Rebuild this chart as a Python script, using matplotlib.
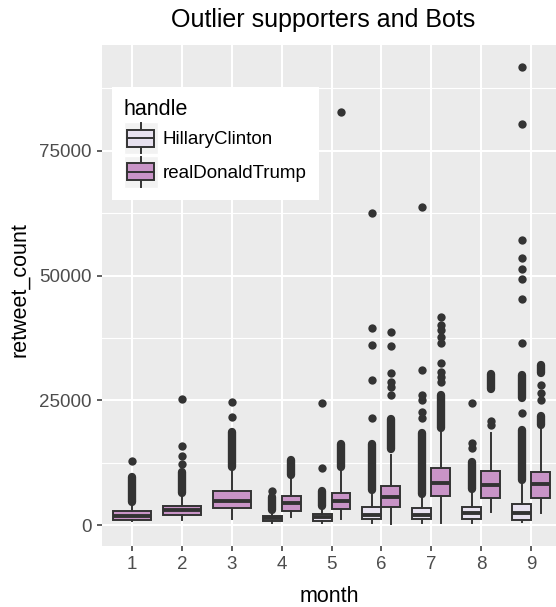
import matplotlib
matplotlib.use('Agg')
import matplotlib.pyplot as plt
from matplotlib.legend_handler import HandlerBase
from matplotlib.patches import Rectangle, Patch
from matplotlib.lines import Line2D

plt.rcParams['font.family'] = ['Liberation Sans', 'DejaVu Sans']

handle_names = ['HillaryClinton', 'realDonaldTrump']
fill_colors = ['#E7E1EF', '#C994C7']
month_ticks = [1, 2, 3, 4, 5, 6, 7, 8, 9]
y_ticks = [0, 25000, 50000, 75000]

# HillaryClinton (months 4-9)
hc_months = [4, 5, 6, 7, 8, 9]
hc_whislo = [460, 460, 460, 460, 460, 540]
hc_q1 = [870, 870, 1140, 1140, 1140, 1000]
hc_med = [1340, 1540, 2000, 2000, 2340, 2470]
hc_q3 = [1870, 2140, 3670, 3340, 3540, 4210]
hc_whishi = [2500, 3000, 6010, 5350, 6350, 8000]
hc_dots = [
    [6870],
    [11360, 24390],
    [21380, 29060, 36070, 39420, 62460],
    [21380, 22700, 25050, 26050, 31060, 63790],
    [15370, 16370, 24390],
    [22380, 36400, 45230, 49240, 51240, 53440, 57110, 80360, 91850],
]
# dense stacks of outliers, (low, high)
hc_runs = [
    [(3000, 5700)],
    [(3900, 6850)],
    [(7000, 16300)],
    [(6300, 18400)],
    [(7300, 12700)],
    [(9000, 19000), (25400, 30000)],
]

# realDonaldTrump (months 1-9)
dt_months = [1, 2, 3, 4, 5, 6, 7, 8, 9]
dt_whislo = [800, 1060, 1260, 1660, 1140, 200, 330, 2540, 2340]
dt_q1 = [1000, 1940, 3470, 2870, 3140, 3540, 5810, 5470, 5350]
dt_med = [1800, 2940, 4800, 4350, 4870, 5550, 8350, 8020, 8150]
dt_q3 = [2740, 3800, 6800, 5870, 6480, 7880, 11490, 10880, 10560]
dt_whishi = [3950, 6000, 11000, 9360, 11160, 14030, 18700, 18500, 19380]
dt_dots = [
    [12900],
    [12290, 13760, 15900, 25300],
    [21700, 24650],
    [],
    [82760],
    [26050, 27720, 28720, 30400, 35870, 38740],
    [28720, 29720, 30720, 32400, 36410, 37740, 39080, 40080, 41740],
    [20100, 20900],
    [25050, 26390, 28060],
]
dt_runs = [
    [(4670, 9700)],
    [(6470, 10560)],
    [(11620, 18700)],
    [(9940, 13100)],
    [(11620, 16230)],
    [(15170, 21240)],
    [(19500, 26050)],
    [(27170, 30260)],
    [(20000, 21900), (30500, 32000)],
]

dark = '#333333'

fig = plt.figure(figsize=(5.56, 6.07), dpi=100)
ax = fig.add_axes([102 / 556, 61 / 607, 459 / 556, 501 / 607])
ax.set_facecolor('#EBEBEB')
ax.set_axisbelow(True)


def draw_group(months, whislo, q1, med, q3, whishi, dots, runs, color, offset, width):
    stats = []
    for i in range(len(months)):
        stats.append(dict(whislo=whislo[i], q1=q1[i], med=med[i], q3=q3[i],
                          whishi=whishi[i], fliers=[]))
    pos = [m + offset for m in months]
    ax.bxp(stats, positions=pos, widths=width, patch_artist=True,
           showfliers=False, showcaps=False, manage_ticks=False,
           boxprops=dict(facecolor=color, edgecolor=dark, linewidth=1.4),
           medianprops=dict(color=dark, linewidth=2.8),
           whiskerprops=dict(color=dark, linewidth=1.4))
    for i, x in enumerate(pos):
        if dots[i]:
            ax.plot([x] * len(dots[i]), dots[i], 'o', ms=6, color=dark, mec='none', zorder=3)
        for lo, hi in runs[i]:
            ax.plot([x, x], [lo, hi], color=dark, lw=6, solid_capstyle='round', zorder=3)


# months 1-3 only have Trump tweets, so that box takes the full slot
single = [m for m in dt_months if m not in hc_months]
draw_group(hc_months, hc_whislo, hc_q1, hc_med, hc_q3, hc_whishi, hc_dots, hc_runs,
           fill_colors[0], -0.19, 0.38)
idx = [dt_months.index(m) for m in single]
draw_group(single, [dt_whislo[i] for i in idx], [dt_q1[i] for i in idx],
           [dt_med[i] for i in idx], [dt_q3[i] for i in idx], [dt_whishi[i] for i in idx],
           [dt_dots[i] for i in idx], [dt_runs[i] for i in idx], fill_colors[1], 0, 0.76)
idx = [dt_months.index(m) for m in hc_months]
draw_group(hc_months, [dt_whislo[i] for i in idx], [dt_q1[i] for i in idx],
           [dt_med[i] for i in idx], [dt_q3[i] for i in idx], [dt_whishi[i] for i in idx],
           [dt_dots[i] for i in idx], [dt_runs[i] for i in idx], fill_colors[1], 0.19, 0.38)

ax.set_xlim(0.4, 9.6)
ax.set_ylim(-4200, 96200)
ax.set_xticks(month_ticks)
ax.set_xticklabels([str(m) for m in month_ticks])
ax.set_yticks(y_ticks)
ax.set_yticklabels([str(v) for v in y_ticks])
ax.set_yticks([12500, 37500, 62500, 87500], minor=True)
ax.grid(True, which='major', color='white', linewidth=1.5)
ax.grid(True, which='minor', axis='y', color='white', linewidth=0.8)
ax.tick_params(axis='both', which='major', color=dark, length=3.5, width=1.1,
               labelsize=13.5, labelcolor='#4D4D4D', pad=4)
ax.tick_params(axis='y', which='minor', length=0)
for s in ax.spines.values():
    s.set_visible(False)

fig.text(323 / 556, 1 - 26.7 / 607, 'Outlier supporters and Bots', ha='center',
         va='baseline', fontsize=18, color='black')
fig.text(329.3 / 556, 1 - 601.5 / 607, 'month', ha='center', va='baseline', fontsize=15.5)
fig.text(25 / 556, 1 - 290 / 607, 'retweet_count', ha='center', va='baseline',
         rotation=90, rotation_mode='anchor', fontsize=15.5)


class BoxKey(HandlerBase):
    def create_artists(self, legend, orig_handle, xdescent, ydescent, width, height,
                       fontsize, trans):
        x0, y0 = -xdescent, -ydescent
        bg = Rectangle((x0, y0), width, height, facecolor='#F2F2F2', edgecolor='white',
                       lw=1, transform=trans)
        cx = x0 + width / 2
        whisk = Line2D([cx, cx], [y0 + 0.03 * height, y0 + 0.97 * height], color=dark,
                       lw=1.4, transform=trans)
        box = Rectangle((x0 + 0.08 * width, y0 + 0.23 * height), 0.8 * width, 0.54 * height,
                        facecolor=orig_handle.get_facecolor(), edgecolor=dark, lw=1.4,
                        transform=trans)
        med = Line2D([x0 + 0.08 * width, x0 + 0.88 * width], [y0 + 0.5 * height] * 2,
                     color=dark, lw=1.4, transform=trans)
        return [bg, whisk, box, med]


leg_handles = [Patch(facecolor=c) for c in fill_colors]
leg = ax.legend(leg_handles, handle_names, title='handle', loc='upper left',
                bbox_to_anchor=(111.7 / 556, 1 - 87.3 / 607), bbox_transform=fig.transFigure,
                borderaxespad=0, fontsize=13.5, title_fontsize=15.5, handlelength=1.81,
                handleheight=2.245, labelspacing=0.09, handletextpad=0.25, borderpad=0.65,
                alignment='left', frameon=True, fancybox=False, facecolor='white',
                edgecolor='none', framealpha=1, handler_map={Patch: BoxKey()})

fig.savefig('out.png', dpi=100)
